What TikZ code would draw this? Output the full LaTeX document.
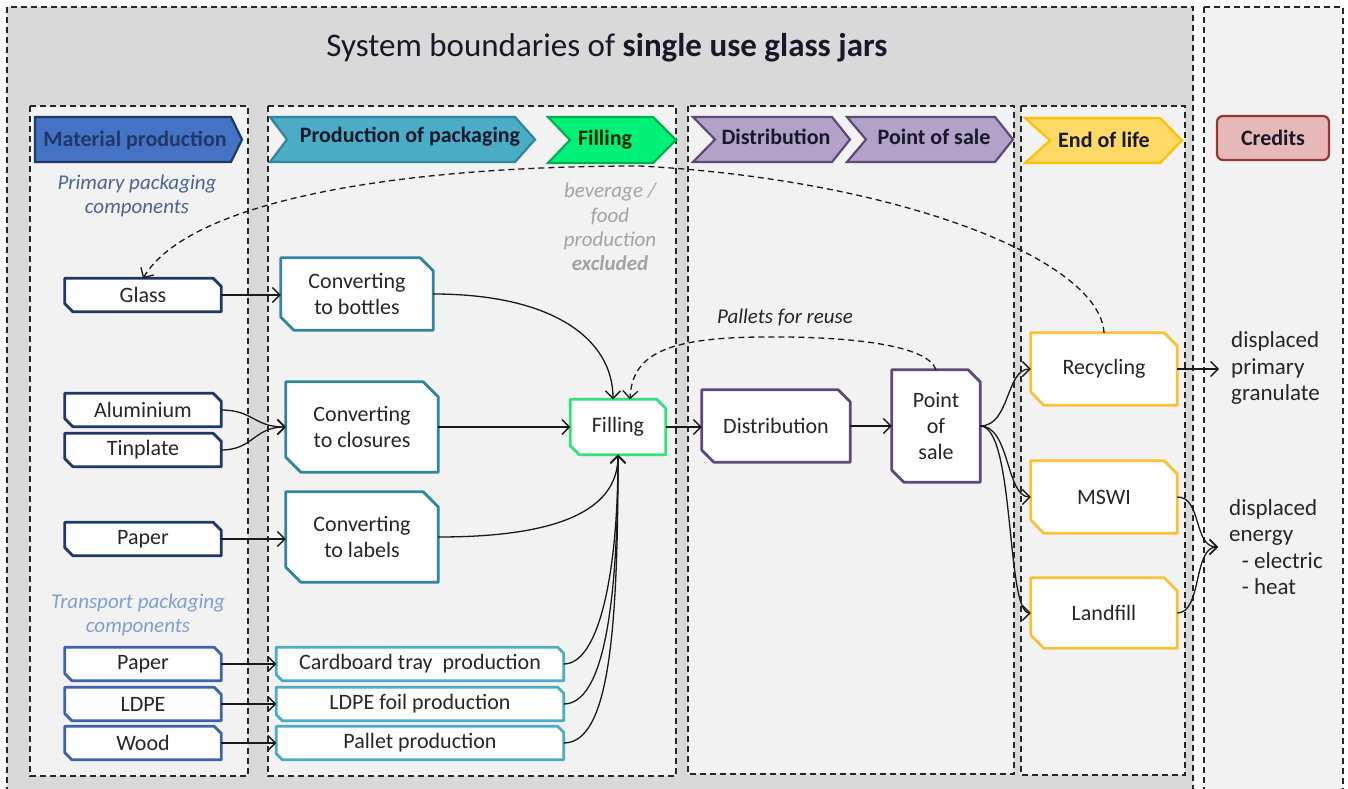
\documentclass[tikz,border=0pt]{standalone}
\usepackage{fontspec}
\setmainfont{Carlito}
\usetikzlibrary{arrows.meta}
\pgfdeclarelayer{bgpanels}
\pgfdeclarelayer{bgshapes}
\pgfsetlayers{bgpanels,bgshapes,main}
\definecolor{outerbg}{HTML}{D9D9D9}
\definecolor{panelbg}{HTML}{F2F2F2}
\definecolor{dashc}{HTML}{262626}
\definecolor{txt}{HTML}{262626}
\definecolor{arrowc}{HTML}{1A1A1A}
\definecolor{navy}{HTML}{1F3864}
\definecolor{tblue}{HTML}{3D64A8}
\definecolor{tealc}{HTML}{31859C}
\definecolor{lteal}{HTML}{4BACC6}
\definecolor{fgreen}{HTML}{33E07A}
\definecolor{purp}{HTML}{5F497A}
\definecolor{eolc}{HTML}{F7C334}
\definecolor{hdrtxt}{HTML}{17192B}
\definecolor{matfill}{HTML}{4472C4}
\definecolor{packfill}{HTML}{4BACC6}
\definecolor{fillfill}{HTML}{00F078}
\definecolor{fillline}{HTML}{00B050}
\definecolor{purfill}{HTML}{B3A2C7}
\definecolor{eolfill}{HTML}{FFD966}
\definecolor{eolline}{HTML}{FFC000}
\definecolor{credfill}{HTML}{E6B9B8}
\definecolor{credline}{HTML}{953735}
\definecolor{primtxt}{HTML}{4A6592}
\definecolor{transtxt}{HTML}{7F9FCF}
\definecolor{greytxt}{HTML}{A3A3A3}
\begin{document}
\begin{tikzpicture}[x=1pt,y=-1pt,
  every node/.style={text=txt},
  bx/.style 2 args={minimum width=#1, minimum height=#2, inner sep=0pt, align=center, font=\fontsize{22}{26}\selectfont},
  dashbox/.style={draw=dashc, line width=1.4pt, dash pattern=on 6pt off 4pt},
  conn/.style={line width=1.3pt, draw=arrowc, -{Straight Barb[length=7.5pt,width=15pt,line width=1.3pt]}},
  dconn/.style={conn, dash pattern=on 6pt off 4pt},
  hdr/.style={font=\fontsize{22}{25}\bfseries\selectfont, text=hdrtxt, inner sep=0pt},
  chev/.style={line width=2.2pt, line join=miter},
  ctext/.style={font=\fontsize{23}{26.5}\selectfont, align=left, inner sep=0pt, anchor=west},
  note/.style={font=\fontsize{21}{24.4}\selectfont\itshape, align=center, inner sep=0pt},
  shapeline/.style={line width=2.8pt, line join=round},
]
\useasboundingbox (0,0) rectangle (1348,789);

\begin{pgfonlayer}{bgpanels}
\fill[white] (0,0) rectangle (1348,789);
\filldraw[dashbox, fill=outerbg] (7,7) rectangle (1193,796);
\filldraw[dashbox, fill=panelbg] (1204,7) rectangle (1343,796);
\filldraw[dashbox, fill=panelbg] (30,106) rectangle (248,776);
\filldraw[dashbox, fill=panelbg] (268,106) rectangle (676,776);
\filldraw[dashbox, fill=panelbg] (688,106) rectangle (1014,774);
\filldraw[dashbox, fill=panelbg] (1021,106) rectangle (1185,775);
\end{pgfonlayer}

% title
\node[font=\fontsize{33}{38}\selectfont, text=hdrtxt] (title) at (607,48) {System boundaries of \textbf{single use glass jars}};

% header chevrons
\filldraw[chev, draw=navy, fill=matfill] (35,117) -- (231,117) -- (242,139.5) -- (231,162) -- (35,162) -- cycle;
\node[hdr, text=navy] (hmat) at (135,140) {Material production};
\filldraw[chev, draw=tealc, fill=packfill] (270,117) -- (515,117) -- (535,139.5) -- (515,162) -- (270,162) -- (287,139.5) -- cycle;
\node[hdr] (hpack) at (410,137) {Production of packaging};
\filldraw[chev, draw=fillline, fill=fillfill] (548,117) -- (653,117) -- (676,140) -- (653,163) -- (548,163) -- (570,140) -- cycle;
\node[hdr, text=black!85!green] (hfill) at (605,140) {Filling};
\filldraw[chev, draw=purp, fill=purfill] (693,117) -- (832,117) -- (850,139.5) -- (832,162) -- (693,162) -- (715,139.5) -- cycle;
\node[hdr] (hdist) at (776,137) {Distribution};
\filldraw[chev, draw=purp, fill=purfill] (847,117) -- (995,117) -- (1013,139.5) -- (995,162) -- (847,162) -- (866,139.5) -- cycle;
\node[hdr] (hpos) at (934,137) {Point of sale};
\filldraw[chev, draw=eolline, fill=eolfill] (1025,118) -- (1160,118) -- (1182,140.5) -- (1160,163) -- (1025,163) -- (1050,140.5) -- cycle;
\node[hdr] (heol) at (1104,140) {End of life};
\filldraw[line width=2.2pt, draw=credline, fill=credfill, rounded corners=6pt] (1217,116) rectangle (1329,160);
\node[hdr] (hcred) at (1273,138) {Credits};

% notes
\node[note, text=primtxt] (prim) at (137,196) {Primary packaging\\components};
\node[note, text=transtxt] (trans) at (138,615) {Transport packaging\\components};
\node[note, text=greytxt] (excl) at (610,227) {beverage /\\food\\production\\\textbf{excluded}};
\node[note, text=txt] (pallets) at (785,317) {Pallets for reuse};

% boxes
\node[bx={156pt}{33pt}] (glass) at (143,295) {Glass};
\node[bx={156pt}{33pt}] (alu) at (143,410) {Aluminium};
\node[bx={156pt}{33pt}] (tin) at (143,450) {Tinplate};
\node[bx={156pt}{33pt}] (paperA) at (143,539) {Paper};
\node[bx={156pt}{33pt}] (paperB) at (143,664) {Paper};
\node[bx={156pt}{33pt}] (ldpe) at (143,704) {LDPE};
\node[bx={156pt}{33pt}] (wood) at (143,743) {Wood};
\node[bx={152pt}{72pt}] (bottles) at (357,294) {Converting\\to bottles};
\node[bx={152pt}{90pt}] (closures) at (362,427) {Converting\\to closures};
\node[bx={152pt}{90pt}] (labels) at (362,537) {Converting\\to labels};
\node[bx={287pt}{33pt}] (tray) at (420,664) {Cardboard tray\ \ production};
\node[bx={287pt}{33pt}] (foil) at (420,704) {LDPE foil production};
\node[bx={287pt}{33pt}] (pallet) at (420,743) {Pallet production};
\node[bx={95pt}{55pt}] (filling) at (618,427) {Filling};
\node[bx={148pt}{72pt}] (dist) at (776,426) {Distribution};
\node[bx={88pt}{112pt}] (pos) at (936,426) {Point\\of\\sale};
\node[bx={146pt}{72pt}] (rec) at (1104,369) {Recycling};
\node[bx={146pt}{72pt}] (mswi) at (1104,497) {MSWI};
\node[bx={146pt}{70pt}] (landfill) at (1104,613) {Landfill};

\node[ctext] (gran) at (1231,368) {displaced\\primary\\granulate};
\node[ctext] (energy) at (1229,547) {displaced\\energy\\\hspace*{0.55em}- electric\\\hspace*{0.55em}- heat};

\begin{pgfonlayer}{bgshapes}
\foreach \nn/\cc/\colr in {glass/8/navy, alu/8/navy, tin/8/navy, paperA/8/navy, paperB/7/tblue, ldpe/7/tblue, wood/7/tblue, bottles/13/tealc, closures/15/tealc, labels/15/tealc, tray/6/lteal, foil/6/lteal, pallet/6/lteal, filling/9/fgreen, dist/12/purp, pos/12/purp, rec/13/eolc, mswi/13/eolc, landfill/13/eolc}
  \filldraw[shapeline, fill=white, draw=\colr] (\nn.north west) -- ([xshift=-\cc pt]\nn.north east) -- ([yshift=-\cc pt]\nn.north east) -- (\nn.south east) -- ([xshift=\cc pt]\nn.south west) -- ([yshift=\cc pt]\nn.south west) -- cycle;
\end{pgfonlayer}

% connectors
\draw[conn] (glass.east) -- (bottles.west |- glass.east);
\draw[conn] (alu.east) .. controls +(32,0) and +(-32,0) .. (closures.west);
\draw[conn] (tin.east) .. controls +(32,0) and +(-32,0) .. (closures.west);
\draw[conn] (paperA.east) -- (labels.west |- paperA.east);
\draw[conn] (paperB.east) -- (tray.west |- paperB.east);
\draw[conn] (ldpe.east) -- (foil.west |- ldpe.east);
\draw[conn] (wood.east) -- (pallet.west |- wood.east);
\draw[conn] (bottles.east) .. controls +(120,0) and +(0,-60) .. ([xshift=-5pt]filling.north);
\draw[conn] (closures.east) -- (filling.west |- closures.east);
\draw[conn] (labels.east) .. controls +(110,0) and +(0,60) .. (filling.south);
\draw[conn] (tray.east) .. controls +(35,0) and +(0,120) .. (filling.south);
\draw[conn] (foil.east) .. controls +(40,0) and +(0,150) .. (filling.south);
\draw[conn] (pallet.east) .. controls +(45,0) and +(0,180) .. (filling.south);
\draw[conn] (filling.east) -- (dist.west |- filling.east);
\draw[conn] (dist.east) -- (pos.west |- dist.east);
\draw[conn] (pos.east) .. controls +(30,0) and +(-25,0) .. (rec.west);
\draw[conn] (pos.east) .. controls +(30,0) and +(-25,0) .. (mswi.west);
\draw[conn] (pos.east) .. controls +(35,0) and +(-25,0) .. (landfill.west);
\draw[conn] (rec.east) -- ([xshift=-12pt]gran.west |- rec.east);
\draw[conn] (mswi.east) .. controls +(25,0) and +(-25,0) .. ([xshift=-11pt]energy.west);
\draw[conn] (landfill.east) .. controls +(25,0) and +(-25,0) .. ([xshift=-11pt]energy.west);
\draw[dconn] (rec.north) .. controls (1100,260) and (900,180) .. (640,166) .. controls (400,166) and (190,200) .. (glass.north);
\draw[dconn] (pos.north) .. controls (928,345) and (850,336) .. (760,337) .. controls (665,338) and (632,355) .. ([xshift=12pt]filling.north);
\end{tikzpicture}
\end{document}
